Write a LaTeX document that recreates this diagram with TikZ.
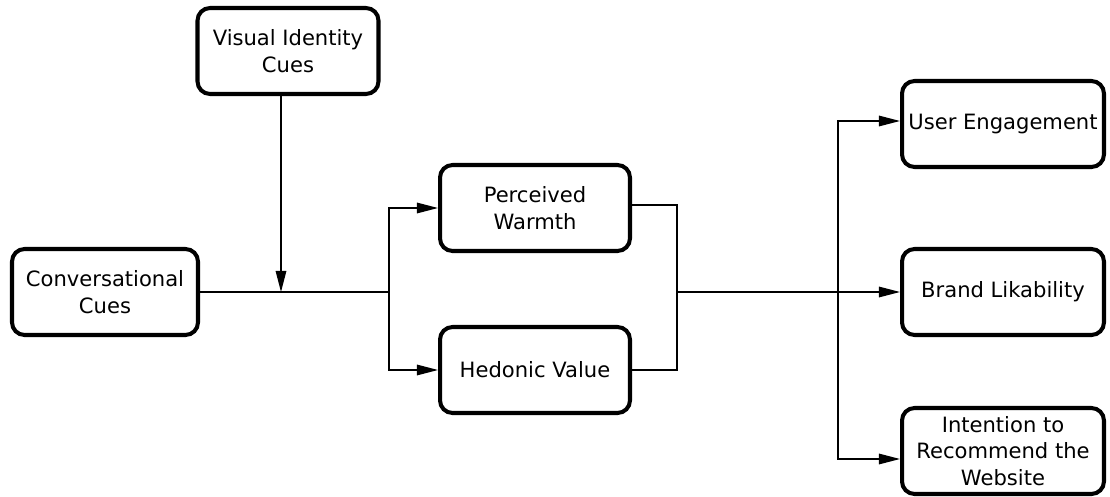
\documentclass[tikz,border=0pt]{standalone}
\usepackage{fontspec}
\setmainfont{DejaVu Sans}
\usetikzlibrary{arrows.meta}

\tikzset{
  block/.style={draw,line width=2.3pt,rounded corners=2.5mm,fill=white,
    align=center,minimum height=1.72cm,inner sep=2pt,
    font=\fontsize{12}{15}\selectfont},
  link/.style={line width=0.8pt},
}

\begin{document}
\begin{tikzpicture}[x=0.02cm,y=-0.02cm,>={Triangle[length=12pt,width=6pt]}]
        \useasboundingbox (0,0) rectangle (1110,497);
        % Inputs
        \node[block,minimum width=3.62cm] (vis) at (288,51) {Visual Identity\\Cues};
        \node[block,minimum width=3.72cm] (conv) at (105,292) {Conversational\\Cues};
        % Mediators
        \node[block,minimum width=3.8cm] (pw) at (535,208) {Perceived\\Warmth};
        \node[block,minimum width=3.8cm] (hv) at (535,370) {Hedonic Value};
        % Outcomes
        \node[block,minimum width=4.04cm] (ue) at (1003,124) {User Engagement};
        \node[block,minimum width=4.04cm] (bl) at (1003,292) {Brand Likability};
        \node[block,minimum width=4.04cm] (int) at (1003,451) {Intention to\\Recommend the\\Website};
        % Junctions
        \coordinate (join) at (281,292);
        \coordinate (split) at (389,292);
        \coordinate (merge) at (677,292);
        \coordinate (fan) at (838,292);
        % Left links
        \draw[link] (conv.east) -- (split);
        \draw[link,->] (vis.south -| join) -- (join);
        \draw[link,->] (split) |- (pw.west);
        \draw[link,->] (split) |- (hv.west);
        % Right links
        \draw[link] ([yshift=0.06cm]pw.east) -| (merge);
        \draw[link] (hv.east) -| (merge);
        \draw[link,->] (merge) -- (bl.west);
        \draw[link,->] (fan) |- ([yshift=0.06cm]ue.west);
        \draw[link,->] (fan) |- ([yshift=-0.16cm]int.west);
      \end{tikzpicture}
\end{document}
